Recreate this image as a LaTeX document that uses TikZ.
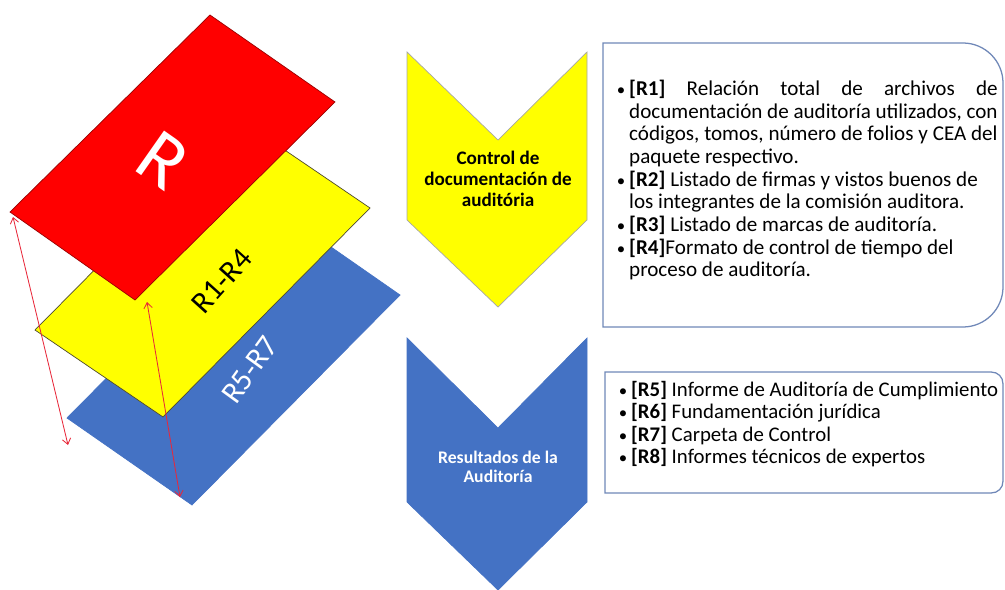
\documentclass[tikz,border=0pt]{standalone}
\usepackage{fontspec}
\setmainfont{Carlito}
\usetikzlibrary{arrows.meta}
\definecolor{pred}{HTML}{FF0000}
\definecolor{pyel}{HTML}{FFFF00}
\definecolor{pblue}{HTML}{4472C4}
\definecolor{boxline}{HTML}{7088B8}
\definecolor{arr}{HTML}{E8283A}
\tikzset{
  plane/.style={line width=0.5pt},
  chev/.style={line width=0.5pt},
  listbox/.style={draw=boxline, line width=0.9pt, fill=white},
  dblarrow/.style={draw=arr, line width=0.6pt, {Straight Barb[length=4pt,width=6pt]}-{Straight Barb[length=4pt,width=6pt]}},
  chevtext/.style={font=\fontsize{13.6}{15}\selectfont\bfseries, align=center, inner sep=0pt},
  listtext/.style={font=\fontsize{15}{16.1}\selectfont, align=left, inner sep=0pt, anchor=north west},
  planelabel/.style={font=\fontsize{22}{22}\selectfont, inner sep=0pt}
}
\newcommand{\bul}{\makebox[9.2pt][l]{\hspace{0.4pt}{\fontsize{12}{12}\selectfont\textbullet}}}
\newcommand{\ind}{\hspace*{9.2pt}}
\newcommand{\fl}[1]{\makebox[262pt][s]{#1}}
\begin{document}
\begin{tikzpicture}[x=0.025cm,y=-0.025cm]
\useasboundingbox (0,0) rectangle (1005,590);
% planes
\draw[plane, fill=pblue, draw=pblue] (275,208) coordinate (bT) -- (400,295) coordinate (bR) -- (192,505) coordinate (bB) -- (67,418) coordinate (bL) -- cycle;
\draw[plane, fill=pyel, draw=black!60!olive] (242,121) coordinate (yT) -- (370,208) coordinate (yR) -- (163,417) coordinate (yB) -- (35,330) coordinate (yL) -- cycle;
\draw[plane, fill=pred, draw=red!60!black] (210,15) coordinate (rT) -- (335,102) coordinate (rR) -- (135,300) coordinate (rB) -- (10,212) coordinate (rL) -- cycle;
\node[white, font=\fontsize{55}{55}\selectfont, rotate=-35, inner sep=0pt] (rlab) at (163,160) {R};
\node[planelabel, black, rotate=48] (ylab) at (222,281) {R1-R4};
\node[planelabel, white, rotate=54] (blab) at (250,370) {R5-R7};
% arrows
\coordinate (a1s) at (13,217);
\coordinate (a1e) at (68,445);
\coordinate (a2s) at (147,302);
\coordinate (a2e) at (180,497);
\draw[dblarrow] (a1s) -- (a1e);
\draw[dblarrow] (a2s) -- (a2e);
% chevrons
\draw[chev, fill=pyel, draw=gray!70] (407,52) -- (498,140) -- (587,52) -- (587,220) -- (498,307) -- (407,220) -- cycle;
\node[chevtext] (c1) at (498,179) {Control de\\documentación de\\auditória};
\draw[chev, fill=pblue, draw=pblue] (407,338) -- (498,428) -- (587,338) -- (587,502) -- (498,590) -- (407,502) -- cycle;
\node[chevtext, white, font=\fontsize{12.6}{14}\selectfont\bfseries] (c2) at (498,467) {Resultados de la\\Auditoría};
% boxes
\draw[listbox] (603,43) -- (963,43) .. controls (985,43) and (1003,61) .. (1003,83)
   -- (1003,287) .. controls (1003,309) and (985,327) .. (963,327) -- (603,327) -- cycle;
\node[listtext] (l1) at (616,80) {%
\bul\fl{\textbf{[R1]} Relación total de archivos de}\\
\ind\fl{documentación de auditoría utilizados, con}\\
\ind\fl{códigos, tomos, número de folios y CEA del}\\
\ind paquete respectivo.\\
\bul\textbf{[R2]} Listado de firmas y vistos buenos de\\
\ind los integrantes de la comisión auditora.\\
\bul\textbf{[R3]} Listado de marcas de auditoría.\\
\bul\textbf{[R4]}Formato de control de tiempo del\\
\ind proceso de auditoría.};
\draw[listbox] (605,372) -- (991,372) .. controls (998,372) and (1003,377) .. (1003,384)
   -- (1003,481) .. controls (1003,488) and (998,493) .. (991,493) -- (605,493) -- cycle;
\node[listtext, font=\fontsize{14.8}{16}\selectfont] (l2) at (618,381) {%
\bul\textbf{[R5]} Informe de Auditoría de Cumplimiento\\
\bul\textbf{[R6]} Fundamentación jurídica\\
\bul\textbf{[R7]} Carpeta de Control\\
\bul\textbf{[R8]} Informes técnicos de expertos};
\end{tikzpicture}
\end{document}
